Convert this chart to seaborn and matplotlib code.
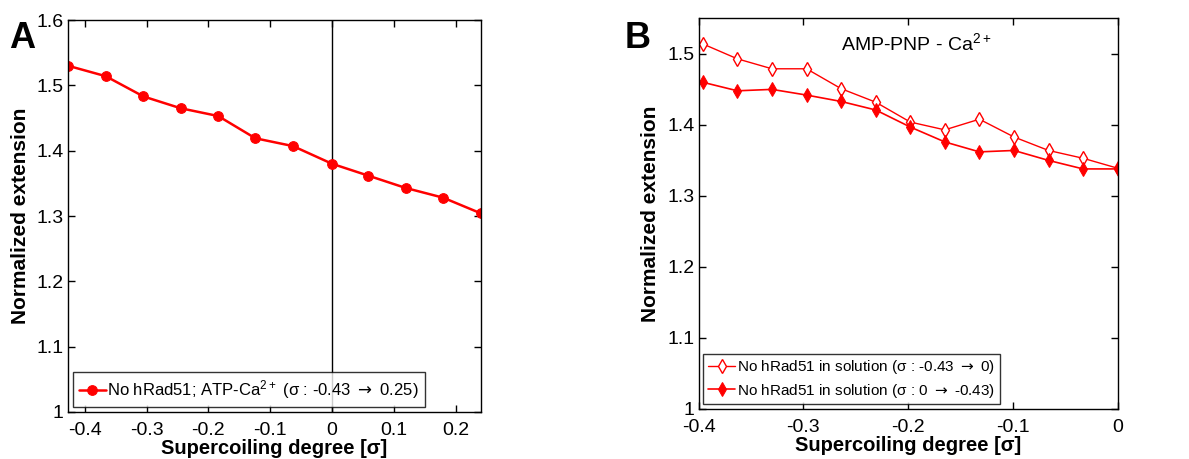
import matplotlib
matplotlib.use("Agg")
import matplotlib.pyplot as plt
import pandas as pd
import seaborn as sns

# Panel A: no hRad51, ATP-Ca2+
sigma_a = [-0.427, -0.366, -0.305, -0.245, -0.184, -0.124, -0.063, 0.0, 0.058, 0.119, 0.180, 0.241]
ext_a = [1.530, 1.514, 1.483, 1.465, 1.453, 1.419, 1.407, 1.380, 1.362, 1.343, 1.328, 1.304]

# Panel B: AMP-PNP - Ca2+
sigma_b = [-0.396, -0.363, -0.330, -0.297, -0.264, -0.231, -0.198, -0.165, -0.132, -0.099, -0.066, -0.033, 0.0]
ext_b_fwd = [1.514, 1.493, 1.479, 1.479, 1.451, 1.432, 1.404, 1.393, 1.408, 1.383, 1.364, 1.353, 1.339]
ext_b_back = [1.460, 1.448, 1.450, 1.442, 1.433, 1.421, 1.397, 1.376, 1.362, 1.364, 1.350, 1.338, 1.338]

arrow = r"$\mathrm{\rightarrow}$"
label_a = "No hRad51; ATP-Ca$^{2+}$ (σ : -0.43 " + arrow + " 0.25)"
label_b1 = "No hRad51 in solution (σ : -0.43 " + arrow + " 0)"
label_b2 = "No hRad51 in solution (σ : 0 " + arrow + " -0.43)"

sns.set_style("ticks")
plt.rcParams['font.family'] = ['Liberation Sans', 'DejaVu Sans']
plt.rcParams['mathtext.fontset'] = 'dejavusans'
plt.rcParams['mathtext.default'] = 'regular'
plt.rcParams['axes.linewidth'] = 1.0
plt.rcParams['text.color'] = 'black'
plt.rcParams['axes.labelcolor'] = 'black'

fig = plt.figure(figsize=(11.89, 4.59), dpi=100)
ax_a = fig.add_axes([0.0572, 0.1024, 0.3473, 0.854])
ax_b = fig.add_axes([0.5876, 0.109, 0.3524, 0.851])

red = '#ff0000'

# Panel A
df_a = pd.DataFrame({'sigma': sigma_a, 'ext': ext_a})
sns.lineplot(data=df_a, x='sigma', y='ext', ax=ax_a, color=red, marker='o',
             markersize=7, markeredgecolor=red, linewidth=1.8, label=label_a)
ax_a.axvline(0, color='black', linewidth=1.0, zorder=1)
ax_a.set_xlim(-0.427, 0.241)
ax_a.set_ylim(1.0, 1.6)
ax_a.set_xticks([-0.4, -0.3, -0.2, -0.1, 0, 0.1, 0.2])
ax_a.set_xticklabels(['-0.4', '-0.3', '-0.2', '-0.1', '0', '0.1', '0.2'])
ax_a.set_yticks([1.0, 1.1, 1.2, 1.3, 1.4, 1.5, 1.6])
ax_a.set_yticklabels(['1', '1.1', '1.2', '1.3', '1.4', '1.5', '1.6'])
ax_a.legend(loc='lower left', fontsize=12, frameon=True, fancybox=False,
            edgecolor='black', handlelength=1.6, handletextpad=0.1,
            borderpad=0.35, borderaxespad=0.3)

# Panel B
df_b = pd.DataFrame({'sigma': sigma_b + sigma_b,
                     'ext': ext_b_fwd + ext_b_back,
                     'run': [label_b1] * len(sigma_b) + [label_b2] * len(sigma_b)})
sns.lineplot(data=df_b[df_b['run'] == label_b1], x='sigma', y='ext', ax=ax_b,
             color=red, marker='d', markersize=7, markerfacecolor='white',
             markeredgecolor=red, markeredgewidth=1.0, linewidth=1.0, label=label_b1)
sns.lineplot(data=df_b[df_b['run'] == label_b2], x='sigma', y='ext', ax=ax_b,
             color=red, marker='d', markersize=7, markeredgecolor=red,
             linewidth=1.2, label=label_b2)
ax_b.set_xlim(-0.4, 0.0)
ax_b.set_ylim(1.0, 1.55)
ax_b.set_xticks([-0.4, -0.3, -0.2, -0.1, 0])
ax_b.set_xticklabels(['-0.4', '-0.3', '-0.2', '-0.1', '0'])
ax_b.set_yticks([1.0, 1.1, 1.2, 1.3, 1.4, 1.5])
ax_b.set_yticklabels(['1', '1.1', '1.2', '1.3', '1.4', '1.5'])
ax_b.text(0.52, 0.965, 'AMP-PNP - Ca$^{2+}$', transform=ax_b.transAxes,
          ha='center', va='top', fontsize=14)
ax_b.legend(loc='lower left', fontsize=11, frameon=True, fancybox=False,
            edgecolor='black', handlelength=1.8, handletextpad=0.1,
            borderpad=0.3, borderaxespad=0.3, labelspacing=0.35)

for ax in (ax_a, ax_b):
    ax.tick_params(direction='in', top=True, right=True, labelsize=14,
                   length=5, width=1.0, colors='black', pad=4)
    ax.tick_params(axis='y', pad=3)
    ax.tick_params(axis='x', pad=7)
    for s in ax.spines.values():
        s.set_visible(True)
        s.set_color('black')
    ax.set_xlabel('Supercoiling degree [σ]', fontsize=14.5, fontweight='bold', labelpad=0)
    ax.set_ylabel('Normalized extension', fontsize=15, fontweight='bold', labelpad=5)
    ax.legend_.get_frame().set_linewidth(1.0)

fig.text(0.008, 0.955, 'A', fontsize=26, fontweight='bold', va='top')
fig.text(0.525, 0.955, 'B', fontsize=26, fontweight='bold', va='top')

fig.savefig('out.png', dpi=100)
